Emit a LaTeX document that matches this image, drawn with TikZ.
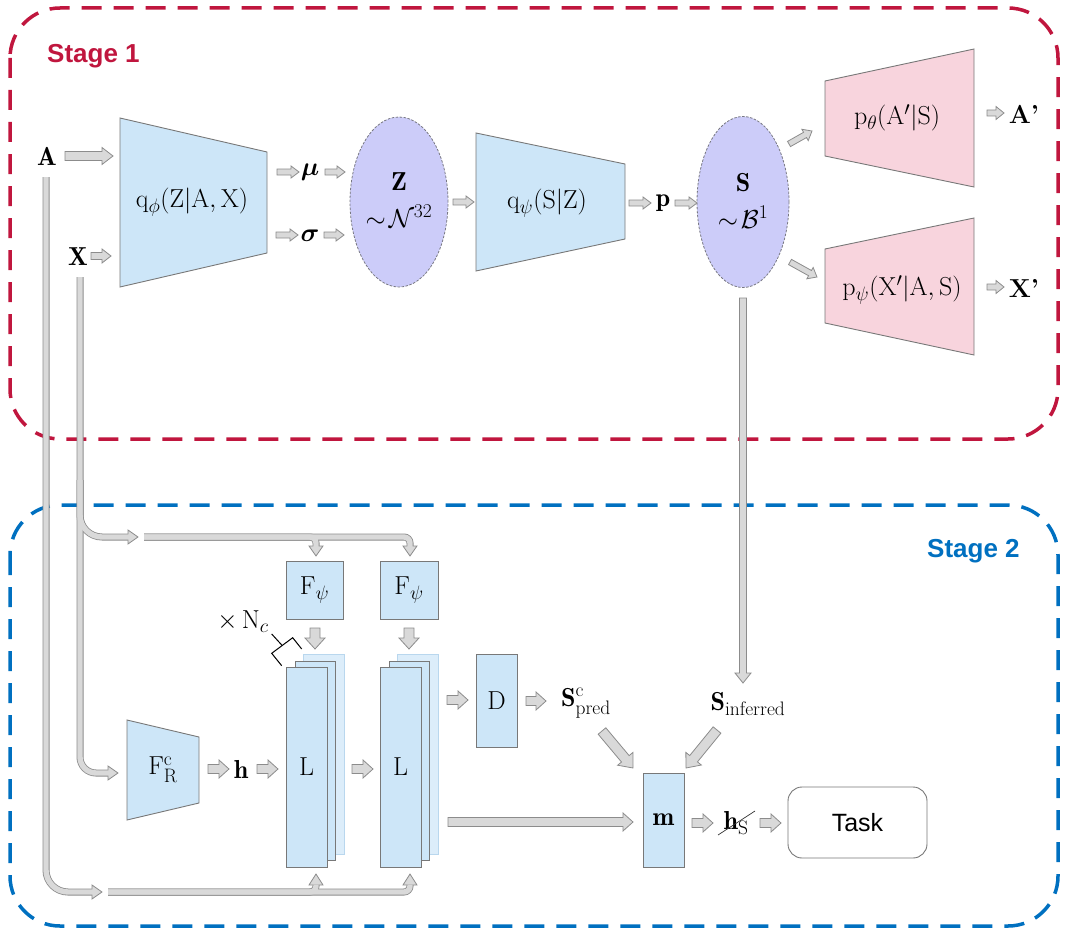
\RequirePackage{fix-cm}
\documentclass[tikz,border=0pt]{standalone}
\usepackage{amsmath,bm}
\usepackage{fontspec}
\newfontfamily\arialfont{Liberation Sans}
\usetikzlibrary{calc,shapes.geometric}
\DeclareMathSizes{26}{26}{19.5}{14}
\definecolor{stagered}{RGB}{192,22,62}
\definecolor{stageblue}{RGB}{0,112,192}
\definecolor{blkfill}{RGB}{205,230,248}
\definecolor{blkline}{RGB}{120,120,120}
\definecolor{pinkfill}{RGB}{248,212,221}
\definecolor{latfill}{RGB}{204,204,249}
\definecolor{latline}{RGB}{120,120,130}
\definecolor{arrfill}{RGB}{217,217,217}
\definecolor{arrline}{RGB}{140,140,140}
\definecolor{lfillb}{RGB}{220,237,250}
\definecolor{llineb}{RGB}{185,215,238}
% block arrow: #1 start, #2 end, #3 shaft half width, #4 head half width, #5 head length
\newcommand\barrow[5]{%
  \path (#1) coordinate (baS) (#2) coordinate (baE);
  \path ($(baE)!#5!(baS)$) coordinate (baN);
  \draw[barrowsty] ($(baS)!#3!90:(baE)$) -- ($(baN)!#3!90:(baE)$) -- ($(baN)!#4!90:(baE)$)
    -- (baE) -- ($(baN)!#4!-90:(baE)$) -- ($(baN)!#3!-90:(baE)$) -- ($(baS)!#3!-90:(baE)$) -- cycle;
}
% arrow head only: #1 base centre, #2 tip, #3 half width
\newcommand\ahead[3]{%
  \path (#1) coordinate (ahB) (#2) coordinate (ahT);
  \draw[barrowsty] ($(ahB)!#3!90:(ahT)$) -- (ahT) -- ($(ahB)!#3!-90:(ahT)$) -- cycle;
}
\begin{document}
\begin{tikzpicture}[x=1pt,y=-1pt,
  lbl/.style={inner sep=0pt, font=\fontsize{26}{28}\selectfont},
  blk/.style={draw=blkline, fill=blkfill, line width=0.9pt},
  pinkblk/.style={draw=blkline, fill=pinkfill, line width=0.9pt},
  blkbox/.style={blk, inner sep=0pt, font=\fontsize{26}{28}\selectfont},
  latent/.style={ellipse, draw=latline, dash pattern=on 2.5pt off 1.5pt, fill=latfill,
     line width=0.8pt, inner sep=0pt},
  barrowsty/.style={draw=arrline, fill=arrfill, line width=0.8pt, line join=miter},
  railout/.style={draw=arrline, line width=7pt},
  railin/.style={draw=arrfill, line width=5.4pt},
  stagebox/.style={line width=3.5pt, dash pattern=on 20pt off 12pt, rounded corners=50pt},
]
\useasboundingbox (0,0) rectangle (1065,931);

% ---------- stage frames
\draw[stagebox, draw=stagered] (10,8) rectangle (1058,439);
\draw[stagebox, draw=stageblue] (10,505) rectangle (1058,926);
\node[anchor=west, inner sep=0pt, text=stagered, font=\arialfont\bfseries\fontsize{26}{30}\selectfont] (st1) at (47,56) {Stage 1};
\node[anchor=west, inner sep=0pt, text=stageblue, font=\arialfont\bfseries\fontsize{26}{30}\selectfont] (st2) at (927,551) {Stage 2};

% ---------- rails (outline layer)
\draw[railout, rounded corners=22pt] (46,177) |- (93.5,892);
\draw[railout, rounded corners=6pt] (108,892) -| (316,884.5);
\draw[railout, rounded corners=6pt] (108,892) -| (410,884.5);
\draw[railout, rounded corners=16pt] (80,277) |- (109.5,773);
\draw[railout, rounded corners=22pt] (80,480) |- (129.5,537);
\draw[railout, rounded corners=6pt] (144,537) -| (316,547.5);
\draw[railout, rounded corners=6pt] (144,537) -| (410,547.5);
% heads
\ahead{92,892}{102,892}{7pt}
\ahead{316,885}{316,874}{7pt}
\ahead{410,885}{410,874}{7pt}
\ahead{108,773}{118,773}{7pt}
\ahead{128,537}{138,537}{7pt}
\ahead{316,546}{316,556}{7pt}
\ahead{410,546}{410,556}{7pt}
% rails (fill layer)
\draw[railin, rounded corners=22pt] (46,177) |- (93.5,892);
\draw[railin, rounded corners=6pt] (108,892) -| (316,884.5);
\draw[railin, rounded corners=6pt] (108,892) -| (410,884.5);
\draw[railin, rounded corners=16pt] (80,277) |- (109.5,773);
\draw[railin, rounded corners=22pt] (80,480) |- (129.5,537);
\draw[railin, rounded corners=6pt] (144,537) -| (316,547.5);
\draw[railin, rounded corners=6pt] (144,537) -| (410,547.5);

% ---------- stage 1
\node[lbl] (A) at (47,156) {$\mathbf{A}$};
\node[lbl] (X) at (78,257) {$\mathbf{X}$};
\draw[blk] (120,118) -- (267,152) -- (267,253) -- (120,287) -- cycle;
\node[lbl] (enc) at (192,202) {$\mathrm{q}_{\phi}(\mathrm{Z}|\mathrm{A},\mathrm{X})$};
\node[lbl] (mu) at (310,172) {$\boldsymbol{\mu}$};
\node[lbl] (sig) at (310,236) {$\boldsymbol{\sigma}$};
\node[latent, minimum width=98pt, minimum height=170pt] (Z) at (399,202) {};
\node[lbl] (Zt) at (399,182) {$\mathbf{Z}$};
\node[lbl] (Zd) at (399,216) {$\sim\!\mathcal{N}^{32}$};
\draw[blk] (476,133) -- (625,164) -- (625,239) -- (476,271) -- cycle;
\node[lbl] (qs) at (547,203) {$\mathrm{q}_{\psi}(\mathrm{S}|\mathrm{Z})$};
\node[lbl] (p) at (663,203) {$\mathbf{p}$};
\node[latent, minimum width=92pt, minimum height=171pt] (S) at (743,202) {};
\node[lbl] (St) at (743,183) {$\mathbf{S}$};
\node[lbl] (Sd) at (743,217) {$\sim\!\mathcal{B}^{1}$};
\draw[pinkblk] (825,81) -- (974,49) -- (974,187) -- (825,156) -- cycle;
\node[lbl] (pA) at (897,118) {$\mathrm{p}_{\theta}(\mathrm{A}'|\mathrm{S})$};
\draw[pinkblk] (825,249) -- (974,218) -- (974,355) -- (825,323) -- cycle;
\node[lbl] (pX) at (902,290) {$\mathrm{p}_{\psi}(\mathrm{X}'|\mathrm{A},\mathrm{S})$};
\node[lbl] (Ap) at (1024,114) {\textbf{A’}};
\node[lbl] (Xp) at (1024,288) {\textbf{X’}};

\barrow{65,156}{113,156}{4.5pt}{8.5pt}{11pt}
\barrow{91,256}{111,256}{3.5pt}{7pt}{9pt}
\barrow{277,172}{299,172}{3pt}{6pt}{8pt}
\barrow{325,172}{345,172}{3pt}{6pt}{8pt}
\barrow{276,235}{298,235}{3pt}{6pt}{8pt}
\barrow{324,235}{344,235}{3pt}{6pt}{8pt}
\barrow{453,202}{474,202}{3pt}{6pt}{8pt}
\barrow{629,203}{651,203}{3pt}{6pt}{8pt}
\barrow{675,203}{697,203}{3pt}{6pt}{8pt}
\barrow{789,144}{812,131}{3pt}{6.5pt}{8pt}
\barrow{790,262}{817,277}{3pt}{6.5pt}{8pt}
\barrow{987,113}{1004,113}{3pt}{6.5pt}{8pt}
\barrow{987,287}{1004,287}{3pt}{6.5pt}{8pt}
\barrow{743,298}{743,683}{3.5pt}{8pt}{10pt}

% ---------- stage 2
\draw[blk] (127,720) -- (199,737) -- (199,803) -- (127,820) -- cycle;
\node[lbl] (FR) at (163,770) {$\mathrm{F}^{\mathrm{c}}_{\mathrm{R}}$};
\node[lbl] (h) at (241,769) {$\mathbf{h}$};
\node[blkbox, minimum width=57pt, minimum height=58pt] (F1) at (314.5,590) {$\mathrm{F}_{\psi}$};
\node[blkbox, minimum width=58pt, minimum height=58pt] (F2) at (409,590) {$\mathrm{F}_{\psi}$};
% stacks
\draw[fill=lfillb, draw=llineb, line width=0.9pt] (303,654) rectangle (344,854);
\draw[blk] (295,661) rectangle (335,860);
\node[blkbox, minimum width=41pt, minimum height=200pt] (L1) at (306.5,767) {$\mathrm{L}$};
\draw[fill=lfillb, draw=llineb, line width=0.9pt] (397,654) rectangle (438,854);
\draw[blk] (389,661) rectangle (429,860);
\node[blkbox, minimum width=41pt, minimum height=200pt] (L2) at (400.5,767) {$\mathrm{L}$};
% x N_c bracket
\node[lbl] (Nc) at (243,622) {$\times\,\mathrm{N}_{c}$};
\draw[line width=1pt, line join=miter] (281.7,665.7) -- (271.7,653.3) -- (292.7,637.7) -- (301.7,649);
\draw[line width=1pt] (271.7,634) -- (282.2,645.5);

\node[blkbox, minimum width=41pt, minimum height=93pt] (D) at (496.5,700.5) {$\mathrm{D}$};
\node[lbl] (Sp) at (586,703) {$\mathbf{S}^{\mathrm{c}}_{\mathrm{pred}}$};
\node[lbl] (Si) at (748,704) {$\mathbf{S}_{\mathrm{inferred}}$};
\node[blkbox, minimum width=41pt, minimum height=94pt] (m) at (663.5,820) {$\mathbf{m}$};
\node[lbl] (hS) at (736,823) {$\mathbf{h}_{\mathrm{S}}$};
\draw[draw=black!80, line width=0.7pt] (718,835) -- (755,811);
\node[draw=blkline, fill=white, line width=0.9pt, rounded corners=14pt, minimum width=139pt,
  minimum height=71pt, inner sep=0pt, font=\arialfont\fontsize{25}{30}\selectfont] (task) at (857.5,822.5) {Task};

\barrow{208,769}{229,769}{4.5pt}{9pt}{10pt}
\barrow{257,769}{278,769}{4.5pt}{9pt}{10pt}
\barrow{352,769}{373,769}{4.5pt}{9pt}{10pt}
\barrow{315,628}{315,649}{5pt}{10pt}{11pt}
\barrow{409,628}{409,649}{5pt}{10pt}{11pt}
\barrow{447,700}{468,700}{4.5pt}{9pt}{10pt}
\barrow{526,701}{546,701}{4.5pt}{9pt}{10pt}
\barrow{448,822}{633,822}{4.5pt}{9pt}{10pt}
\barrow{692,823}{713,823}{4.5pt}{9pt}{10pt}
\barrow{760,823}{781,823}{4.5pt}{9pt}{10pt}
\barrow{602,731}{633,768}{5pt}{10pt}{12pt}
\barrow{717,730}{686,768}{5pt}{10pt}{12pt}
\end{tikzpicture}
\end{document}
